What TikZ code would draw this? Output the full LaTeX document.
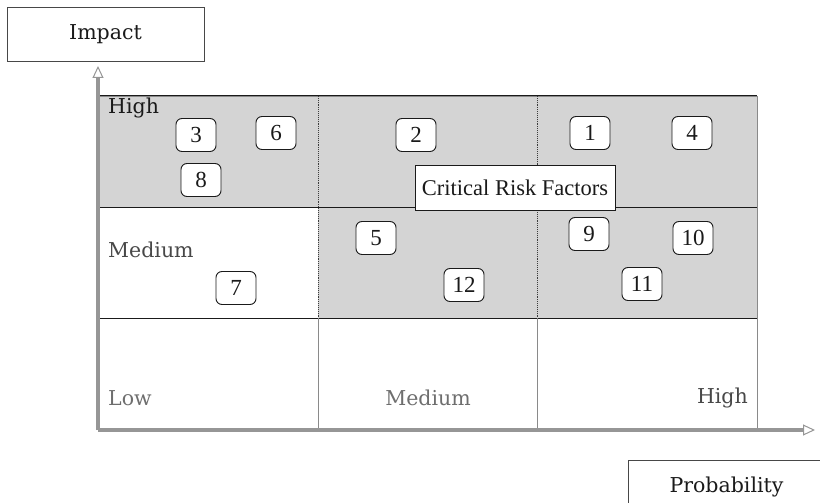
\documentclass[tikz,border=0pt]{standalone}
\usepackage{fontspec}
\setmainfont{Liberation Serif}
\newfontfamily\labelfont{DejaVu Serif}
\usetikzlibrary{arrows.meta}
\definecolor{ink}{HTML}{1A1A1A}
\definecolor{muted}{HTML}{6E6E6E}
\definecolor{cellgray}{HTML}{D4D4D4}
\definecolor{rule}{HTML}{8A8A8A}
\tikzset{
  base/.style={text=ink},
  riskbox/.style={base, draw=ink, fill=white, rounded corners=6pt, line width=0.9pt, minimum width=40pt, minimum height=33pt, inner sep=2pt, font=\fontsize{23}{27}\selectfont},
  callout/.style={base, draw=ink, fill=white, line width=0.9pt, minimum width=200pt, minimum height=45pt, inner sep=5pt, font=\fontsize{22.5}{27}\selectfont},
  axisbox/.style={base, draw=ink!80, fill=white, line width=0.8pt, minimum width=197pt, minimum height=54pt, font=\labelfont\fontsize{20.5}{24}\selectfont},
  level/.style={base, font=\labelfont\fontsize{20.5}{24}\selectfont, inner sep=0pt},
  rowline/.style={draw=ink, line width=1pt},
  colline/.style={draw=ink!85, line width=0.9pt, densely dotted},
  axisarrow/.style={draw=rule!90, line width=3.2pt, -{Triangle[open, length=12pt, width=11pt, line width=1pt]}},
}
\begin{document}
\begin{tikzpicture}[x=1pt,y=-1pt]
  \useasboundingbox (0,0) rectangle (820,503);
  \clip (0,0) rectangle (820,503);

  % shaded cells of the matrix
  \fill[cellgray] (98,96) rectangle (757,207);
  \fill[cellgray] (318,207) rectangle (757,318);

  % grid
  \draw[rule, line width=0.8pt] (98,96) rectangle (757,430);
  \draw[rowline] (98,96) -- (757,96);
  \draw[rowline] (98,207) -- (757,207);
  \draw[rowline] (98,318) -- (757,318);
  \draw[colline] (318,96) -- (318,318);
  \draw[colline] (537,96) -- (537,318);
  \draw[rule, line width=0.6pt] (318,318) -- (318,430);
  \draw[rule, line width=0.6pt] (537,318) -- (537,430);

  % axes
  \coordinate (origin) at (98,430);
  \coordinate (ytip) at (98,66);
  \coordinate (xtip) at (815,430);
  \draw[axisarrow] (origin) -- (ytip);
  \draw[axisarrow] (origin) -- (xtip);

  \node[axisbox] (impact) at (105.5,34) {Impact};
  \node[axisbox] (prob) at (726.5,487) {Probability};

  % level labels
  \node[level, anchor=west] (hiimpact) at (108,108) {High};
  \node[level, anchor=west, text=ink!80] (medimpact) at (108,250) {Medium};
  \node[level, anchor=west, text=muted] (lowprob) at (108,398) {Low};
  \node[level, text=muted] (medprob) at (428,398) {Medium};
  \node[level, anchor=east, text=ink!80] (hiprob) at (748,398) {High};

  % risk factors
  \node[riskbox] (r3) at (196,135) {3};
  \node[riskbox] (r6) at (276,133) {6};
  \node[riskbox] (r8) at (201,180) {8};
  \node[riskbox] (r2) at (416,135) {2};
  \node[riskbox] (r1) at (590,133) {1};
  \node[riskbox] (r4) at (692,133) {4};
  \node[riskbox] (r5) at (376,238) {5};
  \node[riskbox] (r9) at (589,234) {9};
  \node[riskbox] (r10) at (693,238) {10};
  \node[riskbox] (r11) at (642,284) {11};
  \node[riskbox] (r12) at (464,285) {12};
  \node[riskbox] (r7) at (236,288) {7};

  \node[callout] (critical) at (515,187.5) {Critical Risk Factors};
\end{tikzpicture}
\end{document}
